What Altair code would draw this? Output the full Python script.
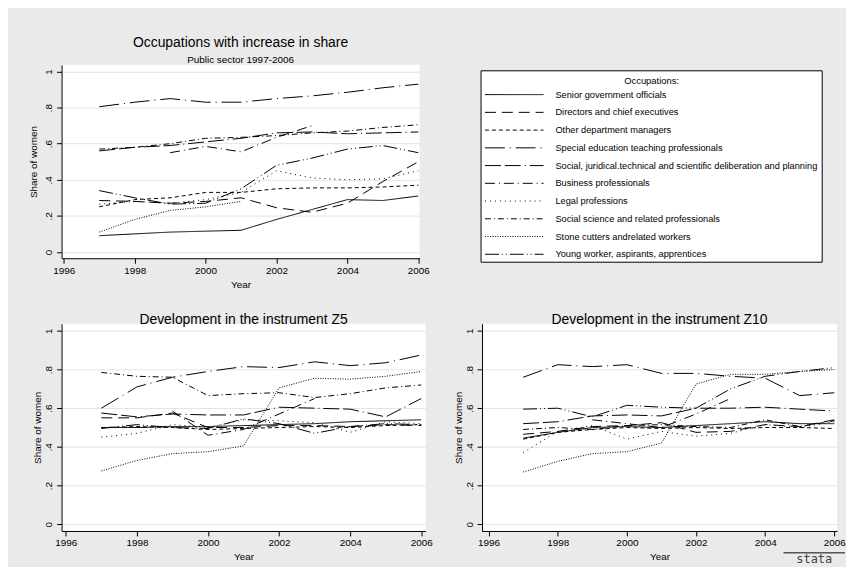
import altair as alt
import pandas as pd

years = [1997, 1998, 1999, 2000, 2001, 2002, 2003, 2004, 2005, 2006]

occupations = [
    "Senior government officials",
    "Directors and chief executives",
    "Other department managers",
    "Special education teaching professionals",
    "Social, juridical.technical and scientific deliberation and planning",
    "Business professionals",
    "Legal professions",
    "Social science and related professionals",
    "Stone cutters andrelated workers",
    "Young worker, aspirants, apprentices",
]

dash_patterns = [[1, 0], [11, 6], [4, 3], [20, 5, 1, 5], [16, 4, 16, 4, 1, 4],
                 [10, 4, 1, 4], [1, 4], [6, 3, 1, 3], [1, 1.5], [14, 3, 1, 3, 1, 3]]

# Panel 1: Occupations with increase in share (public sector 1997-2006)
senior_top = [0.09, 0.10, 0.11, 0.115, 0.12, 0.18, 0.235, 0.29, 0.285, 0.31]
directors_top = [0.285, 0.28, 0.27, 0.28, 0.30, 0.245, 0.22, 0.27, 0.39, 0.50]
other_top = [0.25, 0.29, 0.30, 0.33, 0.33, 0.35, 0.355, 0.355, 0.36, 0.37]
special_top = [0.805, 0.83, 0.85, 0.83, 0.83, 0.85, 0.865, 0.885, 0.91, 0.93]
socjur_top = [0.56, 0.58, 0.59, 0.61, 0.63, 0.66, 0.665, 0.655, 0.66, 0.665]
business_top = [None, None, 0.55, 0.585, 0.555, 0.635, 0.70, None, None, None]
legal_top = [0.265, 0.28, 0.27, 0.29, 0.33, 0.45, 0.41, 0.40, 0.405, 0.45]
socsci_top = [0.57, 0.58, 0.60, 0.63, 0.635, 0.645, 0.66, 0.67, 0.69, 0.705]
stone_top = [0.11, 0.18, 0.23, 0.25, 0.28, None, None, None, None, None]
young_top = [0.34, 0.30, 0.265, 0.27, 0.35, 0.48, 0.52, 0.57, 0.59, 0.55]

# Panel 2: Development in the instrument Z5
senior_z5 = [0.50, 0.50, 0.505, 0.505, 0.51, 0.515, 0.52, 0.53, 0.535, 0.54]
directors_z5 = [0.55, 0.55, 0.575, 0.50, 0.50, 0.51, 0.51, 0.505, 0.515, 0.51]
other_z5 = [0.50, 0.505, 0.50, 0.49, 0.495, 0.50, 0.505, 0.50, 0.51, 0.515]
special_z5 = [0.60, 0.71, 0.76, 0.79, 0.815, 0.81, 0.84, 0.82, 0.835, 0.875]
socjur_z5 = [0.575, 0.555, 0.57, 0.565, 0.565, 0.605, 0.60, 0.595, 0.555, 0.65]
business_z5 = [None, None, 0.585, 0.46, 0.49, 0.57, 0.65, None, None, None]
legal_z5 = [0.45, 0.47, 0.515, 0.50, 0.54, 0.535, 0.525, 0.475, 0.53, 0.52]
socsci_z5 = [0.785, 0.765, 0.76, 0.665, 0.675, 0.68, 0.655, 0.675, 0.705, 0.72]
stone_z5 = [0.275, 0.33, 0.365, 0.375, 0.405, 0.705, 0.755, 0.75, 0.765, 0.79]
young_z5 = [0.495, 0.515, 0.50, 0.495, 0.545, 0.52, 0.47, 0.505, 0.52, 0.515]

# Panel 3: Development in the instrument Z10
senior_z10 = [0.445, 0.475, 0.50, 0.505, 0.50, 0.51, 0.52, 0.53, 0.52, 0.52]
directors_z10 = [0.465, 0.48, 0.505, 0.51, 0.525, 0.475, 0.48, 0.515, 0.505, 0.54]
other_z10 = [0.44, 0.475, 0.49, 0.50, 0.495, 0.50, 0.495, 0.50, 0.50, 0.495]
special_z10 = [0.76, 0.825, 0.815, 0.825, 0.78, 0.78, 0.765, 0.755, 0.665, 0.68]
socjur_z10 = [0.52, 0.53, 0.56, 0.565, 0.56, 0.60, 0.60, 0.605, 0.595, 0.585]
business_z10 = [None, None, 0.54, 0.52, 0.50, 0.57, 0.65, None, None, None]
legal_z10 = [0.37, 0.48, 0.51, 0.44, 0.48, 0.455, 0.47, 0.515, 0.50, 0.53]
socsci_z10 = [0.49, 0.50, 0.49, 0.51, 0.515, 0.505, 0.50, 0.54, 0.505, 0.535]
stone_z10 = [0.27, 0.325, 0.365, 0.375, 0.42, 0.725, 0.775, 0.775, 0.79, 0.80]
young_z10 = [0.595, 0.60, 0.555, 0.615, 0.605, 0.60, 0.70, 0.765, 0.79, 0.81]

x_ticks = [1996, 1998, 2000, 2002, 2004, 2006]
y_ticks = [0, 0.2, 0.4, 0.6, 0.8, 1.0]


def long_df(series_list):
    rows = []
    for name, vals in zip(occupations, series_list):
        for yr, v in zip(years, vals):
            if v is not None:
                rows.append({"year": yr, "share": v, "occupation": name})
    return pd.DataFrame(rows)


df_top = long_df([senior_top, directors_top, other_top, special_top, socjur_top,
                  business_top, legal_top, socsci_top, stone_top, young_top])
df_z5 = long_df([senior_z5, directors_z5, other_z5, special_z5, socjur_z5,
                 business_z5, legal_z5, socsci_z5, stone_z5, young_z5])
df_z10 = long_df([senior_z10, directors_z10, other_z10, special_z10, socjur_z10,
                  business_z10, legal_z10, socsci_z10, stone_z10, young_z10])

dash_scale = alt.Scale(domain=occupations, range=dash_patterns)
y_label_expr = "datum.value == 0 ? '0' : datum.value == 1 ? '1' : replace(format(datum.value, '.1f'), '0.', '.')"


def panel(df, xdom, w, h, title, title_pad):
    return alt.Chart(df).mark_line(strokeWidth=1, color="black").encode(
        x=alt.X("year:Q",
                scale=alt.Scale(domain=xdom, nice=False, zero=False),
                axis=alt.Axis(values=x_ticks, format="d", title="Year", grid=False,
                              labelPadding=2, titlePadding=4, labelFlush=False)),
        y=alt.Y("share:Q",
                scale=alt.Scale(domain=[-0.035, 1.037], nice=False, zero=False),
                axis=alt.Axis(values=y_ticks, labelExpr=y_label_expr, title="Share of women",
                              grid=True, labelAngle=270, labelAlign="center",
                              labelBaseline="bottom", labelPadding=3,
                              minExtent=13, maxExtent=13, titlePadding=title_pad)),
        strokeDash=alt.StrokeDash("occupation:N", scale=dash_scale, legend=None),
        detail="occupation:N",
    ).properties(width=w, height=h, title=title)


top = panel(df_top, [1995.936, 2006.036], 361, 195,
            alt.TitleParams("Occupations with increase in share",
                            subtitle="Public sector 1997-2006", offset=0,
                            subtitlePadding=5), 10)

# Legend panel (drawn through the same dash scale)
leg_df = pd.DataFrame({"occupation": occupations})
box_df = pd.DataFrame({"k": [0]})
leg_y = alt.Y("occupation:N", scale=alt.Scale(type="point", domain=occupations,
                                              range=[30, 191], padding=0), axis=None)
leg_box = alt.Chart(box_df).mark_rect(fill="white", stroke="black", strokeWidth=1).encode(
    x=alt.value(0), x2=alt.value(344), y=alt.value(6), y2=alt.value(199))
leg_title = alt.Chart(box_df).mark_text(fontSize=9.5, color="black").encode(
    x=alt.value(172), y=alt.value(16), text=alt.value("Occupations:"))
leg_rules = alt.Chart(leg_df).mark_rule(color="black", strokeWidth=1).encode(
    x=alt.value(4), x2=alt.value(63), y=leg_y,
    strokeDash=alt.StrokeDash("occupation:N", scale=dash_scale, legend=None))
leg_text = alt.Chart(leg_df).mark_text(align="left", baseline="middle", fontSize=9.3,
                                       color="black").encode(
    x=alt.value(75), y=leg_y, text="occupation:N")
legend_panel = alt.layer(leg_box, leg_title, leg_rules, leg_text).properties(
    width=344, height=199, view=alt.ViewBackground(fill="transparent", stroke="transparent"))

z5 = panel(df_z5, [1995.88, 2006.12], 367, 209,
           alt.TitleParams("Development in the instrument Z5", offset=-3), 6)

z10_lines = panel(df_z10, [1995.81, 2006.08], 358, 209,
                  alt.TitleParams("Development in the instrument Z10", offset=-3), 6)
logo_rule = alt.Chart(box_df).mark_rule(color="#555555", strokeWidth=1.5).encode(
    x=alt.value(304), x2=alt.value(366), y=alt.value(231))
logo_text = alt.Chart(box_df).mark_text(fontSize=12, color="#444444",
                                        font="DejaVu Sans Mono").encode(
    x=alt.value(335), y=alt.value(237), text=alt.value("stata"))
z10 = alt.layer(z10_lines, logo_rule, logo_text)

chart = alt.vconcat(
    alt.hconcat(top, legend_panel, spacing=51),
    alt.hconcat(z5, z10, spacing=21),
    spacing=24,
).properties(
    padding={"left": 21, "top": 26, "right": 0, "bottom": 0},
    background="#eaeaea",
).configure(
    font="Liberation Sans"
).configure_view(
    fill="white", stroke=None
).configure_axis(
    domainColor="black", tickColor="black", labelColor="black", titleColor="black",
    gridColor="#e4e4e4", labelFontSize=10, titleFontSize=10, titleFontWeight="normal",
    tickSize=5, domainWidth=1, tickWidth=1
).configure_title(
    fontSize=14, fontWeight="normal", color="black", subtitleFontSize=10,
    subtitleColor="black", anchor="middle"
)

chart.save("out.html", embed_options={"renderer": "svg", "actions": False})
